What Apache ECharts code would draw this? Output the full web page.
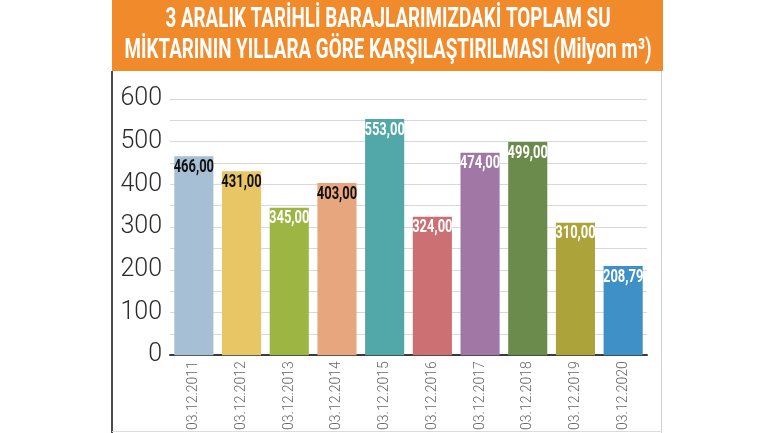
<!DOCTYPE html>
<html>
<head>
<meta charset="utf-8">
<script src="https://cdn.jsdelivr.net/npm/echarts@6/dist/echarts.min.js"></script>
<style>
html,body{margin:0;padding:0;background:#fff;}
#c{width:770px;height:433px;}
</style>
</head>
<body>
<div id="c"></div>
<script>
var titleLines = ['3 ARALIK TARİHLİ BARAJLARIMIZDAKİ TOPLAM SU', 'MİKTARININ YILLARA GÖRE KARŞILAŞTIRILMASI (Milyon m³)'];
var categories = ['03.12.2011','03.12.2012','03.12.2013','03.12.2014','03.12.2015','03.12.2016','03.12.2017','03.12.2018','03.12.2019','03.12.2020'];
var values = [466, 431, 345, 403, 553, 324, 474, 499, 310, 208.79];
var barColors = ['#a6bfd5','#e8c565','#9db543','#e7a67d','#52a8a8','#cc7073','#a077a5','#6b8b4c','#aca33a','#3f90c6'];
var labelColors = ['#111','#111','#fff','#111','#fff','#fff','#fff','#fff','#fff','#fff'];
var yTicks = [0,100,200,300,400,500,600];

var titleFont = "bold 28px Roboto, sans-serif";
var cv = document.createElement('canvas').getContext('2d');
cv.font = titleFont;
var titleScale = 527 / cv.measureText(titleLines[1]).width;

function fmt(v){ return v.toFixed(2).replace('.', ','); }

var chart = echarts.init(document.getElementById('c'));
chart.setOption({
  backgroundColor: '#fff',
  animation: false,
  graphic: [
    {type:'rect', shape:{x:112,y:0,width:551,height:71}, style:{fill:'#f08a2b'}, z:-1},
    {type:'text', x:388, y:20, scaleX:titleScale, style:{text:titleLines[0], fill:'#fff', font:titleFont, textAlign:'center', textVerticalAlign:'middle'}},
    {type:'text', x:388, y:51, scaleX:titleScale, style:{text:titleLines[1], fill:'#fff', font:titleFont, textAlign:'center', textVerticalAlign:'middle'}},
    {type:'rect', shape:{x:111,y:71,width:2,height:362}, style:{fill:'#4a4a4a'}},
    {type:'rect', shape:{x:661,y:71,width:1,height:362}, style:{fill:'#cfcfcf'}},
    {type:'rect', shape:{x:112,y:431,width:550,height:1}, style:{fill:'#dcdcdc'}}
  ],
  grid: {left:170, top:99, width:477, height:258},
  xAxis: {
    type:'category',
    data: categories,
    axisLine:{lineStyle:{color:'#3a3a3a', width:2}},
    axisTick:{show:false},
    axisLabel:{rotate:90, color:'#666', fontFamily:'Roboto', fontWeight:300, fontSize:14, margin:6}
  },
  yAxis: {
    type:'value', min:0, max:600, interval:50,
    axisLine:{show:false}, axisTick:{show:false},
    splitLine:{lineStyle:{color:'#d8d8d8', width:1}},
    axisLabel:{
      color:'#2a2a2a', fontFamily:'Roboto', fontWeight:300, fontSize:25, margin:8,
      formatter:function(v){ return yTicks.indexOf(v) >= 0 ? String(v) : ''; }
    }
  },
  series: [{
    type:'bar',
    barWidth:'82%',
    data: values.map(function(v,i){
      return {value:v, itemStyle:{color:barColors[i]}};
    })
  },{
    type:'custom',
    data: values.map(function(v,i){ return [i, v]; }),
    encode:{x:0, y:1},
    z:5,
    renderItem:function(params, api){
      var i = api.value(0), v = api.value(1);
      var p = api.coord([i, v]);
      return {
        type:'text', x:p[0], y:p[1] + 2, scaleX:0.72,
        style:{text:fmt(v), fill:labelColors[i], font:"bold 18px Roboto, sans-serif",
               textAlign:'center', textVerticalAlign:'top'}
      };
    }
  }]
});
</script>
</body>
</html>
